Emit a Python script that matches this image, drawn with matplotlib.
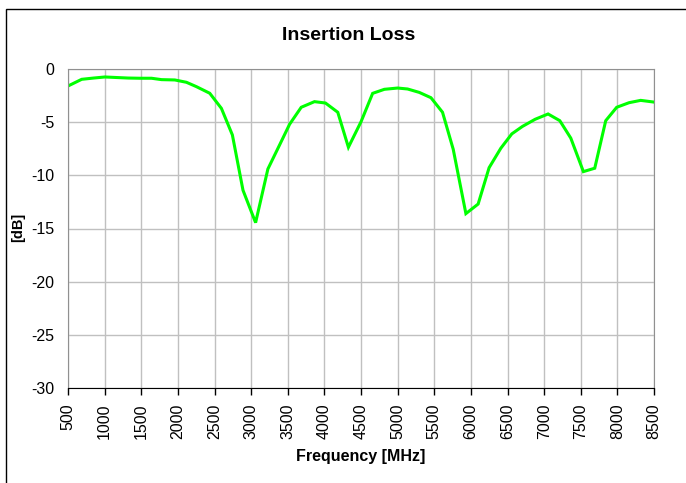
import numpy as np
import matplotlib
matplotlib.use('Agg')
import matplotlib.pyplot as plt
from matplotlib.patches import Rectangle

# Insertion loss trace
freq_mhz = [500, 687, 850, 1004, 1160, 1322, 1480, 1640, 1777, 1958,
            2117, 2253, 2435, 2594, 2744, 2889, 3061, 3229, 3388, 3525,
            3684, 3865, 4015, 4183, 4328, 4501, 4659, 4819, 5000, 5136,
            5295, 5455, 5613, 5759, 5932, 6099, 6249, 6409, 6559, 6704,
            6877, 7054, 7214, 7364, 7536, 7691, 7841, 7991, 8159, 8318, 8487]
loss_db = [-1.6, -0.97, -0.85, -0.75, -0.8, -0.85, -0.87, -0.87, -1.0, -1.03,
           -1.25, -1.66, -2.28, -3.7, -6.2, -11.4, -14.45, -9.4, -7.15, -5.2,
           -3.6, -3.07, -3.2, -4.07, -7.36, -4.95, -2.29, -1.91, -1.79, -1.88,
           -2.2, -2.7, -4.07, -7.55, -13.6, -12.7, -9.28, -7.45, -6.1, -5.4,
           -4.73, -4.23, -4.86, -6.5, -9.65, -9.33, -4.86, -3.6, -3.17, -2.95, -3.1]

x_ticks = list(range(500, 8501, 500))
y_ticks = [0, -5, -10, -15, -20, -25, -30]

plt.rcParams['font.family'] = ['Liberation Sans', 'DejaVu Sans']

W, H = 686, 483
fig = plt.figure(figsize=(W / 100, H / 100), dpi=100)

# outer chart frame (only top and left edges visible in the picture)
fig.patches.append(Rectangle((6 / W, -0.1), 1.2, 1.1 - 9 / H,
                             transform=fig.transFigure, fill=False,
                             ec='black', lw=1.0))

ax = fig.add_axes([68 / W, 1 - 388 / H, (654 - 68) / W, (388 - 69) / H])
ax.plot(freq_mhz, loss_db, color='#00FF00', lw=2.2, solid_joinstyle='miter')

ax.set_xlim(500, 8500)
ax.set_ylim(-30, 0)
ax.set_xticks(x_ticks)
ax.set_xticklabels([str(t) for t in x_ticks], rotation=90, fontsize=11.5)
ax.set_yticks(y_ticks)
ax.set_yticklabels([str(t) for t in y_ticks], fontsize=11.5)

ax.grid(True, color='#c0c0c0', lw=1.0)
ax.set_axisbelow(True)
for side in ['top', 'right', 'left']:
    ax.spines[side].set_color('#909090')
ax.spines['bottom'].set_color('black')
ax.tick_params(axis='x', direction='out', length=5, width=1, color='black', pad=6)
ax.tick_params(axis='y', length=0, pad=10)

fig.text(349 / W, 1 - 35 / H, 'Insertion Loss', ha='center', va='center',
         fontsize=14, fontweight='bold')
fig.text(361 / W, 1 - 457 / H, 'Frequency [MHz]', ha='center', va='center',
         fontsize=11.5, fontweight='bold')
fig.text(18 / W, 1 - 227 / H, '[dB]', ha='center', va='center', rotation=90,
         fontsize=10.5, fontweight='bold')

fig.savefig('out.png', dpi=100)
